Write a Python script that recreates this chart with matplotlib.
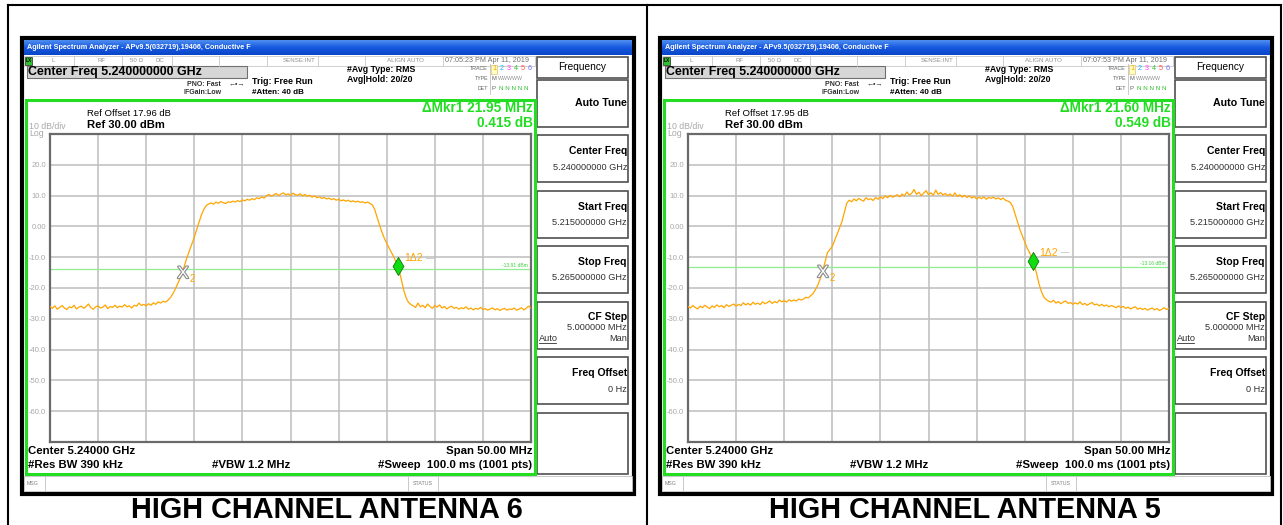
import matplotlib
matplotlib.use("Agg")
import matplotlib.pyplot as plt
from matplotlib.patches import Rectangle
from matplotlib.colors import LinearSegmentedColormap
import matplotlib.patheffects as pe
import numpy as np

plt.rcParams['font.family'] = ['Liberation Sans', 'DejaVu Sans']

# sweep settings (GHz)
start_ghz = 5.215
stop_ghz = 5.265

# traces, 0.25 MHz per point (dBm)
trace_ant6 = [-26.0, -26.6, -25.8, -26.9, -26.3, -25.7, -26.5, -27.0, -26.1, -26.4,
              -25.6, -26.8, -26.2, -25.9, -26.6, -26.0, -25.2, -26.4, -26.9, -26.1,
              -25.8, -26.5, -26.2, -25.5, -26.7, -26.0, -26.3, -25.6, -26.4, -25.9,
              -26.2, -25.4, -26.1, -25.8, -26.5, -25.6, -25.9, -24.9, -25.7, -25.3,
              -25.8, -25.1, -25.6, -24.8, -25.3, -24.5, -24.9, -24.3,
              -24.6, -24.0, -23.2, -22.0, -20.5, -18.8, -17.0, -15.0, -12.5, -10.0,
              -7.8, -5.5, -3.5, -1.0, 1.5, 3.8, 5.6, 6.8, 7.3,
              7.6, 7.2, 7.9, 7.5, 8.1, 7.7, 7.4, 8.0, 7.8, 8.2,
              7.9, 8.4, 8.0, 8.6, 8.3, 8.8, 8.5, 9.0, 8.7, 9.3,
              9.0, 9.6, 9.2, 9.9, 10.4, 9.8, 10.2, 10.7, 10.0, 10.5,
              10.9, 10.2, 10.6, 10.0, 10.8, 10.3, 10.1, 10.6, 9.9, 10.4,
              9.8, 10.1, 9.5, 9.9, 9.3, 9.6, 9.1, 9.4, 8.9, 9.2,
              8.7, 9.0, 8.5, 8.8, 8.3, 8.6, 8.2, 8.5, 8.0, 8.3,
              7.9, 8.2, 7.8, 8.0, 7.6, 7.9, 7.5,
              7.0, 5.5, 3.0, 0.5, -1.8, -3.8, -5.5, -7.0, -8.5, -10.0,
              -11.8, -13.8, -17.0, -20.5, -23.0, -24.6, -25.3,
              -25.8, -26.3, -24.9, -26.1, -25.6, -26.4, -25.2, -26.0, -26.6, -25.7,
              -26.2, -25.5, -26.5, -26.0, -26.8, -26.2, -25.9, -26.6, -26.3, -26.9,
              -26.4, -26.7, -26.1, -26.9, -26.5, -27.1, -26.6, -26.9, -26.3, -27.0,
              -26.7, -27.2, -26.8, -26.5, -27.1, -26.7, -27.3, -26.9, -26.6, -27.2,
              -26.8, -27.0, -26.5, -27.2, -26.9, -26.4, -27.1, -26.6, -25.9, -26.5]
trace_ant5 = [-26.0, -26.5, -25.7, -26.3, -26.8, -25.9, -26.4, -25.6, -26.2, -26.7,
              -25.8, -26.3, -25.5, -26.1, -25.7, -26.4, -25.4, -26.0, -25.6, -25.2,
              -25.9, -25.3, -25.7, -24.8, -25.5, -25.0, -25.6, -24.6, -25.3, -24.9,
              -25.4, -24.5, -25.1, -24.7, -24.2, -25.0, -24.4, -24.8, -23.9, -24.5,
              -24.1, -24.6, -23.8, -24.3, -23.9, -24.2, -23.6, -23.9,
              -23.6, -23.0, -23.2, -22.5, -21.8, -20.5, -19.0, -17.0, -14.5, -11.5,
              -8.5, -7.5, -6.5, -4.5, -2.5, -0.5, 1.5, 4.5, 7.5,
              8.5, 8.0, 8.9, 8.3, 9.1, 8.6, 8.2, 9.3, 8.7, 9.0,
              8.4, 9.4, 8.8, 9.6, 9.0, 9.9, 9.3, 10.1, 9.5, 9.8,
              10.3, 9.6, 10.5, 9.9, 11.2, 10.2, 10.7, 12.0, 10.4, 11.1,
              10.0, 10.8, 11.6, 10.3, 10.9, 10.1, 11.8, 10.4, 11.0, 10.2,
              10.7, 10.0, 10.5, 9.8, 10.9, 9.7, 10.3, 9.5, 10.1, 9.4,
              9.9, 9.2, 9.7, 8.9, 9.5, 9.0, 9.6, 8.8, 9.4, 9.1,
              9.5, 8.9, 9.3, 8.7, 9.2, 8.5, 8.2,
              7.8, 6.5, 4.0, 1.5, -1.0, -3.0, -5.0, -7.0, -8.5, -10.2,
              -12.5, -15.5, -18.8, -21.3, -23.0, -23.8, -24.3,
              -24.6, -24.0, -24.9, -24.4, -25.1, -24.6, -24.2, -25.0, -24.7, -25.3,
              -24.8, -25.2, -24.5, -25.4, -25.0, -25.6, -25.1, -24.7, -25.5, -25.2,
              -25.8, -25.3, -25.9, -25.5, -26.1, -25.7, -26.0, -26.4, -25.8, -26.3,
              -26.0, -26.6, -26.2, -26.8, -26.4, -26.1, -26.9, -26.5, -27.0, -26.6,
              -27.2, -26.8, -26.5, -27.1, -26.7, -27.3, -26.9, -26.4, -27.0, -26.6]

captions = ["HIGH CHANNEL ANTENNA 6", "HIGH CHANNEL ANTENNA 5"]
timestamps = ["07:05:23 PM Apr 11, 2019", "07:07:53 PM Apr 11, 2019"]
ref_offsets = ["17.96", "17.95"]
delta_freq = ["21.95 MHz", "21.60 MHz"]
delta_level = ["0.415 dB", "0.549 dB"]
display_line = [-13.91, -13.16]
mkr2_freq = [5.22883, 5.22903]
mkr2_level = [-15.3, -15.0]
mkr1_freq = [5.25118, 5.25085]
mkr1_level = [-13.0, -11.2]

ytick_vals = list(range(-70, 31, 10))
ytick_text = ["", "-60.0", "-50.0", "-40.0", "-30.0", "-20.0", "-10.0", "0.00", "10.0", "20.0", ""]

menu_items = [("Center Freq", "5.240000000 GHz"), ("Start Freq", "5.215000000 GHz"),
              ("Stop Freq", "5.265000000 GHz"), ("CF Step", "5.000000 MHz"),
              ("Freq Offset", "0 Hz"), ("", "")]

W, H = 1283, 525
fig = plt.figure(figsize=(W / 100, H / 100), dpi=100)
bg = fig.add_axes([0, 0, 1, 1])
bg.set_xlim(0, W)
bg.set_ylim(H, 0)
bg.axis('off')

GREEN = '#22dd22'
ORANGE = '#ffa500'
LGRAY = '#a8a8a8'
title_cmap = LinearSegmentedColormap.from_list('tb', ['#4d8cf0', '#1658e0', '#0a46c8'])


def rect(x0, y0, x1, y1, **kw):
    bg.add_patch(Rectangle((x0, y0), x1 - x0, y1 - y0, **kw))


def txt(x, y, s, size=6, **kw):
    kw.setdefault('va', 'center')
    bg.text(x, y, s, fontsize=size, **kw)


# outer table lines
bg.plot([8, 1281], [5, 5], color='black', lw=1.5)
for xx in [8, 647, 1281]:
    bg.plot([xx, xx], [5, 525], color='black', lw=1.5)


def draw_screen(ox, k, trace):
    # screen frame
    rect(ox, 38, ox + 612, 494, fc='white', ec='black', lw=3, zorder=1)
    # title bar with gradient
    grad = np.linspace(0, 1, 20).reshape(-1, 1)
    bg.imshow(grad, extent=(ox + 2, ox + 610, 55, 40), cmap=title_cmap, aspect='auto', zorder=2)
    txt(ox + 5, 47.5, "Agilent Spectrum Analyzer - APv9.5(032719),19406, Conductive F",
        size=5.2, color='white', weight='bold', zorder=3)
    # status row
    rect(ox + 2, 56, ox + 513, 66, fc='white', ec='#c8c8c8', lw=0.6, zorder=2)
    rect(ox + 3, 57, ox + 10, 65, fc='#30c030', ec='black', lw=0.4, zorder=3)
    txt(ox + 6.5, 61, "LX", size=3.5, ha='center', weight='bold', zorder=4)
    for dx in [52, 100, 150, 197, 245, 296, 343, 421]:
        bg.plot([ox + dx, ox + dx], [56, 66], color='#c8c8c8', lw=0.6, zorder=3)
    for dx, s in [(30, "L"), (75, "RF"), (108, "50 \u03a9"), (134, "DC"), (261, "SENSE:INT"), (365, "ALIGN AUTO")]:
        txt(ox + dx, 61, s, size=4.4, color='#909090', zorder=3)
    txt(ox + 423, 61, timestamps[k], size=5.2, color='#707070', zorder=3)
    # center freq box
    rect(ox + 5, 66, ox + 225, 78, fc='#d6d6d6', ec='#707070', lw=0.8, zorder=2)
    txt(ox + 6, 72, "Center Freq 5.240000000 GHz", size=8.9, weight='bold', zorder=3)
    txt(ox + 165, 84, "PNO: Fast", size=5, weight='bold', color='#303030', zorder=3)
    txt(ox + 162, 93, "IFGain:Low", size=5, weight='bold', color='#303030', zorder=3)
    txt(ox + 207, 83.5, "\u2190\u2022\u2192", size=5, color='#303030', zorder=3)
    txt(ox + 230, 81, "Trig: Free Run", size=6.4, weight='bold', zorder=3)
    txt(ox + 230, 92, "#Atten: 40 dB", size=5.8, weight='bold', zorder=3)
    txt(ox + 325, 70, "#Avg Type: RMS", size=6.3, weight='bold', zorder=3)
    txt(ox + 325, 80, "Avg|Hold: 20/20", size=6.3, weight='bold', zorder=3)
    for yy, s in [(69, "TRACE"), (79, "TYPE"), (89, "DET")]:
        txt(ox + 466, yy, s, size=3.8, color='#606060', ha='right', zorder=3)
    bg.plot([ox + 468, ox + 468], [64, 94], color='#c0c0c0', lw=0.6, zorder=3)
    rect(ox + 469, 64.5, ox + 475, 73.5, fc='#ffffc0', ec='#e0c080', lw=0.5, zorder=3)
    for j, c in enumerate([ORANGE, '#20b0ff', '#ff40ff', '#30c030', '#ff5050', '#7070ff']):
        txt(ox + 472 + 7.2 * j, 69, str(j + 1), size=5.2, color=c, ha='center', zorder=4)
    txt(ox + 470, 79, "M", size=4.2, color='#606060', zorder=3)
    txt(ox + 476, 79, "WWWWW", size=3.8, color='#909090', zorder=3)
    txt(ox + 470, 89, "P", size=4.2, color='#606060', zorder=3)
    txt(ox + 477, 89, "N N N N N", size=4.5, color='#30c030', zorder=3)
    # menu panel
    rect(ox + 515, 57, ox + 606, 78, fc='white', ec='#505050', lw=1.2, zorder=2)
    txt(ox + 560, 67.5, "Frequency", size=7.3, ha='center', zorder=3)
    rect(ox + 515, 80, ox + 606, 127, fc='white', ec='#505050', lw=1.2, zorder=2)
    txt(ox + 605, 103, "Auto Tune", size=7.7, weight='bold', ha='right', zorder=3)
    for j, (title, val) in enumerate(menu_items):
        top = 135 + 55.5 * j
        bot = top + 47 if title else 474
        rect(ox + 515, top, ox + 606, bot, fc='white', ec='#505050', lw=1.2, zorder=2)
        if title:
            txt(ox + 605, top + 16, title, size=7.5, weight='bold', ha='right', zorder=3)
        if title == "CF Step":
            txt(ox + 605, top + 26, val, size=6.6, ha='right', color='#303030', zorder=3)
            txt(ox + 517, top + 37, "Auto", size=6.6, color='#303030', zorder=3)
            bg.plot([ox + 517, ox + 534], [top + 41.5, top + 41.5], color='#303030', lw=0.6, zorder=3)
            txt(ox + 605, top + 37, "Man", size=6.6, ha='right', color='#303030', zorder=3)
        elif val:
            txt(ox + 605, top + 32, val, size=6.6, ha='right', color='#303030', zorder=3)
    # green measurement frame
    rect(ox + 4, 100, ox + 513, 474, fc='white', ec=GREEN, lw=2.2, zorder=2)
    txt(ox + 511, 108, "\u0394Mkr1 " + delta_freq[k], size=9.8, weight='bold', color=GREEN, ha='right', zorder=3)
    txt(ox + 511, 123, delta_level[k], size=9.8, weight='bold', color=GREEN, ha='right', zorder=3)
    txt(ox + 65, 113.5, "Ref Offset " + ref_offsets[k] + " dB", size=6.8, zorder=3)
    txt(ox + 65, 125, "Ref 30.00 dBm", size=8.1, weight='bold', zorder=3)
    txt(ox + 7, 126.5, "10 dB/div", size=6.3, color=LGRAY, zorder=3)
    txt(ox + 7, 133.5, "Log", size=6.3, color=LGRAY, zorder=3)
    txt(ox + 6, 451, "Center 5.24000 GHz", size=8.2, weight='bold', zorder=3)
    txt(ox + 6, 465, "#Res BW 390 kHz", size=8.2, weight='bold', zorder=3)
    txt(ox + 190, 465, "#VBW 1.2 MHz", size=8.2, weight='bold', zorder=3)
    txt(ox + 510, 451, "Span 50.00 MHz", size=8.2, weight='bold', ha='right', zorder=3)
    txt(ox + 510, 465, "#Sweep  100.0 ms (1001 pts)", size=8.2, weight='bold', ha='right', zorder=3)
    # message bar
    rect(ox + 2, 476, ox + 610, 491, fc='white', ec='#c0c0c0', lw=0.6, zorder=2)
    txt(ox + 5, 483.5, "MSG", size=3.8, color='#808080', zorder=3)
    for dx in [23, 386, 416]:
        bg.plot([ox + dx, ox + dx], [476, 491], color='#c0c0c0', lw=0.6, zorder=3)
    txt(ox + 401, 483.5, "STATUS", size=3.8, color='#808080', ha='center', zorder=3)
    # caption
    txt(ox + 305, 510, captions[k], size=20.8, weight='bold', ha='center')

    # trace plot
    ax = fig.add_axes([(ox + 28) / W, 1 - 442 / H, 481 / W, 308 / H])
    freqs = np.linspace(start_ghz, stop_ghz, len(trace))
    ax.plot(freqs, trace, color=ORANGE, lw=0.9, zorder=3)
    ax.axhline(display_line[k], color='#90ee90', lw=0.9, zorder=2)
    ax.text(stop_ghz - 0.0003, display_line[k] + 0.4, f"{display_line[k]:.2f} dBm",
            fontsize=3.6, color='#40d040', ha='right', va='bottom')
    ax.set_xlim(start_ghz, stop_ghz)
    ax.set_ylim(-70, 30)
    ax.set_xticks(np.linspace(start_ghz, stop_ghz, 11))
    ax.set_xticklabels([])
    ax.set_yticks(ytick_vals)
    ax.set_yticklabels(ytick_text)
    ax.tick_params(length=0, labelsize=5.5, labelcolor=LGRAY, pad=3)
    ax.grid(True, color='#bdbdbd', lw=1.1)
    for sp in ax.spines.values():
        sp.set_color('#6a6a6a')
        sp.set_linewidth(1.6)
    # marker 2 (reference) drawn as outlined X
    ax.text(mkr2_freq[k], mkr2_level[k], "X", fontsize=12, color='white', ha='center', va='center',
            path_effects=[pe.withStroke(linewidth=1.6, foreground='#8a8a8a')], zorder=5)
    ax.annotate("2", (mkr2_freq[k], mkr2_level[k]), xytext=(4.5, -4), textcoords='offset points',
                fontsize=7, color=ORANGE, ha='left', va='center', zorder=5)
    # marker 1 (delta) diamond
    diamond = [(0, 1), (0.6, 0), (0, -1), (-0.6, 0), (0, 1)]
    ax.plot([mkr1_freq[k]], [mkr1_level[k]], marker=diamond, markersize=13, color='#10dd10',
            mec='#0a7a0a', mew=0.6, zorder=6)
    ax.annotate("1\u03942", (mkr1_freq[k], mkr1_level[k]), xytext=(4.5, 6), textcoords='offset points',
                fontsize=7.5, color=ORANGE, ha='left', va='center', zorder=6)
    ax.annotate("\u2014", (mkr1_freq[k], mkr1_level[k]), xytext=(20, 5.5), textcoords='offset points',
                fontsize=6, color='#a0a0a0', ha='left', va='center', zorder=6)
    return ax


draw_screen(22, 0, trace_ant6)
draw_screen(660, 1, trace_ant5)

fig.savefig("out.png", dpi=100)
